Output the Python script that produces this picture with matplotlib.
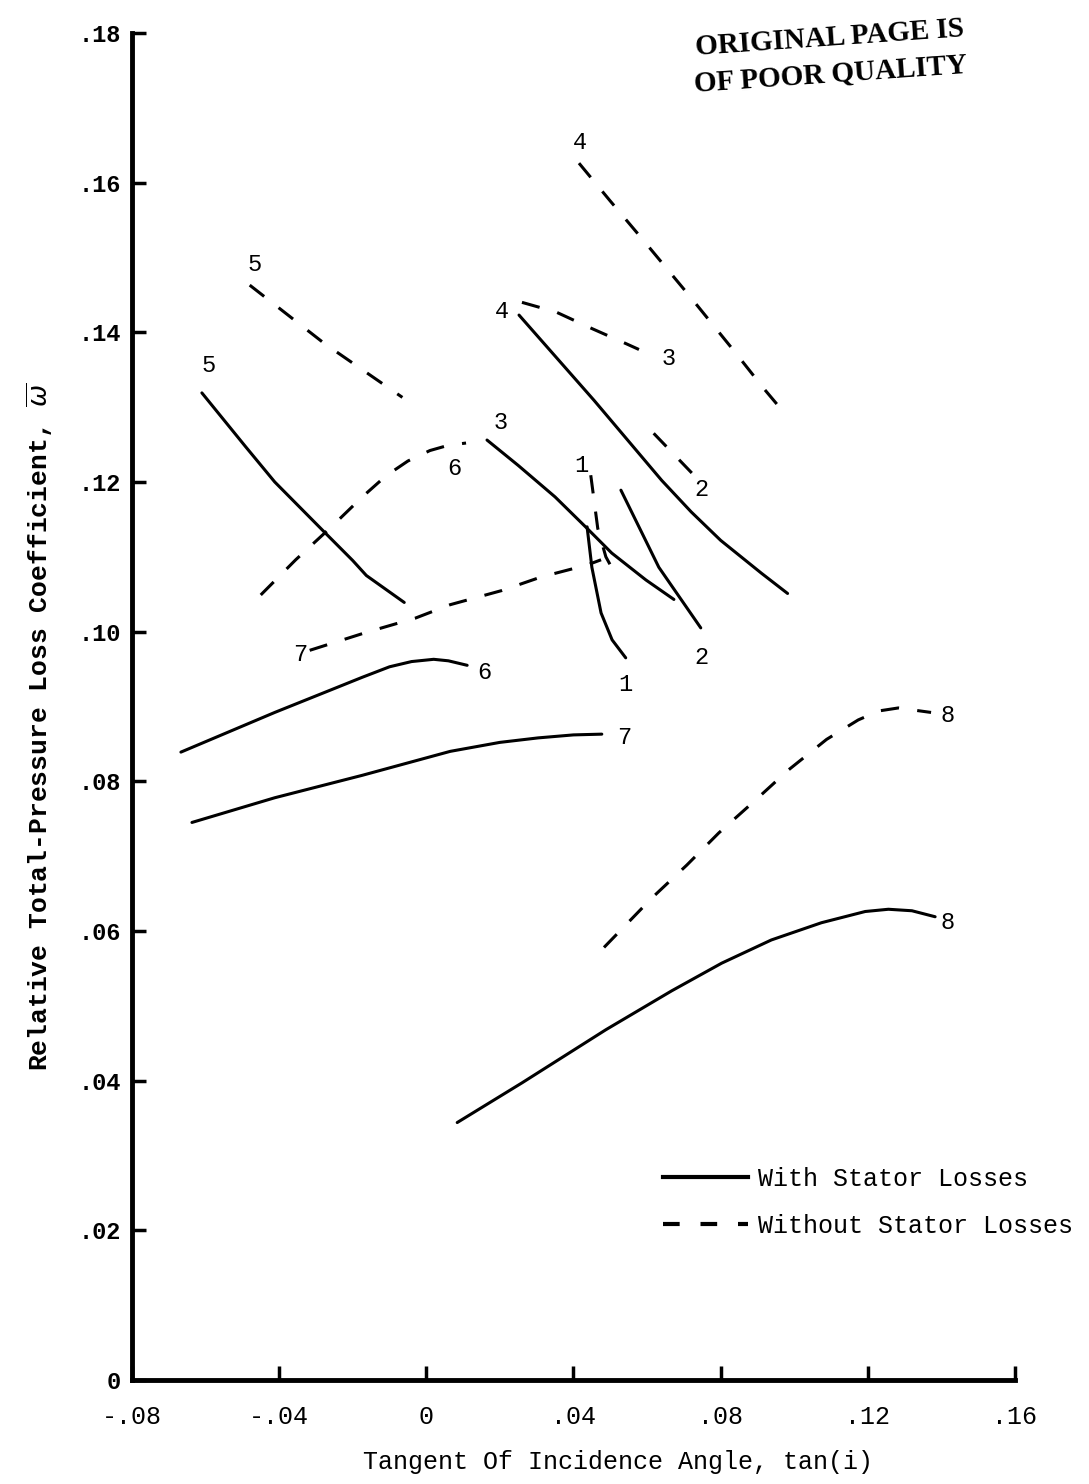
import matplotlib as mpl
import matplotlib.pyplot as plt
from matplotlib.lines import Line2D

mpl.rc('font', family='Liberation Mono', size=18)

# with stator losses (solid)
s1_x = [0.0437, 0.0450, 0.0475, 0.0505, 0.0542]
s1_y = [0.1140, 0.1086, 0.1025, 0.0989, 0.0965]
s2_x = [0.0529, 0.0632, 0.0746]
s2_y = [0.1189, 0.1086, 0.1005]
s3_x = [0.0165, 0.0250, 0.0350, 0.0437, 0.0504, 0.0597, 0.0673]
s3_y = [0.1256, 0.1222, 0.1180, 0.1138, 0.1105, 0.1069, 0.1043]
s4_x = [0.0252, 0.0456, 0.0640, 0.0720, 0.0800, 0.0911, 0.0982]
s4_y = [0.1423, 0.1309, 0.1202, 0.1160, 0.1122, 0.1078, 0.1051]
s5_x = [-0.0610, -0.0491, -0.0412, -0.0277, -0.0200, -0.0163, -0.0060]
s5_y = [0.1319, 0.1247, 0.1200, 0.1133, 0.1095, 0.1075, 0.1039]
s6_x = [-0.0667, -0.0412, -0.0260, -0.0174, -0.0100, -0.0040, 0.0020, 0.0060, 0.0111]
s6_y = [0.0839, 0.0892, 0.0922, 0.0939, 0.0953, 0.0960, 0.0963, 0.0961, 0.0955]
s7_x = [-0.0637, -0.0412, -0.0174, 0.0065, 0.0200, 0.0304, 0.0400, 0.0477]
s7_y = [0.0745, 0.0778, 0.0808, 0.0840, 0.0852, 0.0858, 0.0862, 0.0863]
s8_x = [0.0084, 0.0260, 0.0488, 0.0667, 0.0803, 0.0938, 0.1074, 0.1193, 0.1256, 0.1320, 0.1383]
s8_y = [0.0344, 0.0397, 0.0468, 0.0520, 0.0557, 0.0588, 0.0611, 0.0626, 0.0629, 0.0627, 0.0619]

# without stator losses (dashed)
d1_x = [0.0447, 0.0466, 0.0488, 0.0518]
d1_y = [0.1209, 0.1138, 0.1100, 0.1073]
d2_x = [0.0618, 0.0749]
d2_y = [0.1265, 0.1198]
d3_x = [0.0260, 0.0353, 0.0450, 0.0542, 0.0578]
d3_y = [0.1440, 0.1427, 0.1405, 0.1385, 0.1377]
d4_x = [0.0415, 0.0499, 0.0583, 0.0713, 0.0835, 0.0917, 0.0982]
d4_y = [0.1626, 0.1576, 0.1527, 0.1450, 0.1376, 0.1325, 0.1287]
d5_x = [-0.0480, -0.0277, -0.0065]
d5_y = [0.1463, 0.1385, 0.1313]
d6_x = [-0.0450, -0.0355, -0.0258, -0.0174, -0.0110, -0.0050, 0.0010, 0.0060, 0.0108]
d6_y = [0.1049, 0.1096, 0.1140, 0.1180, 0.1208, 0.1228, 0.1242, 0.1249, 0.1252]
d7_x = [-0.0317, -0.0163, -0.0030, 0.0065, 0.0206, 0.0312, 0.0437, 0.0475]
d7_y = [0.0975, 0.0999, 0.1018, 0.1036, 0.1055, 0.1073, 0.1089, 0.1096]
d8_x = [0.0483, 0.0613, 0.0708, 0.0795, 0.0895, 0.0984, 0.1088, 0.1174, 0.1230, 0.1283, 0.1372]
d8_y = [0.0578, 0.0644, 0.0688, 0.0731, 0.0775, 0.0815, 0.0856, 0.0882, 0.0894, 0.0898, 0.0892]

solid = [(s1_x, s1_y), (s2_x, s2_y), (s3_x, s3_y), (s4_x, s4_y),
         (s5_x, s5_y), (s6_x, s6_y), (s7_x, s7_y), (s8_x, s8_y)]
dashed = [(d1_x, d1_y), (d2_x, d2_y), (d3_x, d3_y), (d4_x, d4_y),
          (d5_x, d5_y), (d6_x, d6_y), (d7_x, d7_y), (d8_x, d8_y)]

# curve numbers and where they are written
solid_labels = [('1', 0.0542, 0.0929), ('2', 0.0749, 0.0965), ('3', 0.0203, 0.1279),
                ('4', 0.0206, 0.1428), ('5', -0.0591, 0.1356), ('6', 0.0157, 0.0946),
                ('7', 0.0537, 0.0859), ('8', 0.1418, 0.0611)]
dashed_labels = [('1', 0.0420, 0.1222), ('2', 0.0749, 0.1190), ('3', 0.0659, 0.1365),
                 ('4', 0.0418, 0.1653), ('5', -0.0466, 0.1490), ('6', 0.0076, 0.1218),
                 ('7', -0.0344, 0.0969), ('8', 0.1418, 0.0888)]

xticks = [-0.08, -0.04, 0, 0.04, 0.08, 0.12, 0.16]
xticklabels = ['-.08', '-.04', '0', '.04', '.08', '.12', '.16']
yticks = [0, 0.02, 0.04, 0.06, 0.08, 0.10, 0.12, 0.14, 0.16, 0.18]
yticklabels = ['0', '.02', '.04', '.06', '.08', '.10', '.12', '.14', '.16', '.18']

lw = 2.2
dash = (6, 6)

fig = plt.figure(figsize=(10.89, 14.84), dpi=100)
ax = fig.add_axes([0.1212, 0.0701, 0.8108, 0.9077])

for x, y in solid:
    ax.plot(x, y, color='black', lw=lw, solid_capstyle='round', solid_joinstyle='round')
for x, y in dashed:
    ax.plot(x, y, color='black', lw=lw, dashes=dash)

for t, x, y in solid_labels + dashed_labels:
    ax.text(x, y, t, ha='center', va='center', fontsize=17)

ax.set(xlim=(-0.08, 0.16), ylim=(0, 0.18),
       xticks=xticks, yticks=yticks)
ax.set_xticklabels(xticklabels, fontsize=18)
ax.set_yticklabels(yticklabels, fontsize=17, fontweight='bold')
ax.spines[['top', 'right']].set_visible(False)
for s in ('left', 'bottom'):
    ax.spines[s].set_linewidth(3.5)
ax.tick_params(axis='both', direction='in', length=10, width=2.5)
ax.tick_params(axis='x', pad=18)
ax.tick_params(axis='y', pad=8)

ax.set_xlabel('Tangent Of Incidence Angle, tan(i)', fontsize=18)
ax.xaxis.set_label_coords(0.55, -0.052)
ax.set_ylabel(r'Relative Total-Pressure Loss Coefficient, $\overline{\omega}$',
              fontsize=19, fontweight='bold')
ax.yaxis.set_label_coords(-0.087, 0.485)

handles = [Line2D([], [], color='black', lw=3),
           Line2D([], [], color='black', lw=3, dashes=(4, 5))]
ax.legend(handles, ['With Stator Losses', 'Without Stator Losses'],
          loc='upper left', bbox_to_anchor=(0.601, 0.158), frameon=False,
          borderpad=0, borderaxespad=0, handlelength=3.4, handletextpad=0.4,
          labelspacing=0.9, fontsize=18)

fig.text(0.762, 0.974, 'ORIGINAL PAGE IS', rotation=4, ha='center', va='center',
         family='Liberation Serif', fontweight='bold', fontsize=21)
fig.text(0.763, 0.950, 'OF POOR QUALITY', rotation=4, ha='center', va='center',
         family='Liberation Serif', fontweight='bold', fontsize=21)

fig.savefig('out.png', dpi=100)
